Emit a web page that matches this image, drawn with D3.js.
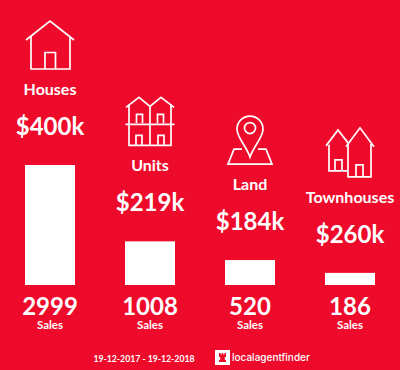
<!DOCTYPE html>
<html>
<head>
<meta charset="utf-8">
<script src="https://cdn.jsdelivr.net/npm/d3@7"></script>
<style>
html, body { margin: 0; padding: 0; background: #ee0a2b; }
svg { display: block; }
text { font-family: Lato, "Open Sans", sans-serif; font-weight: 700; fill: #fff; text-anchor: middle; }
</style>
</head>
<body>
<svg id="chart" width="400" height="370"></svg>
<script>
const categories = ['Houses', 'Units', 'Land', 'Townhouses'];
const prices = ['$400k', '$219k', '$184k', '$260k'];
const sales = [2999, 1008, 520, 186];
const dateRange = '19-12-2017 - 19-12-2018';

const RED = '#ee0a2b';
const width = 400;
const height = 370;
const baseline = 285;

const svg = d3.select('#chart');

const xScale = d3.scaleBand()
    .domain(categories)
    .range([0, width])
    .paddingInner(0.5)
    .paddingOuter(0.25);

// bars never go down to nothing, the smallest still has 5px
const hScale = d3.scaleLinear()
    .domain([0, d3.max(sales)])
    .range([5, 120]);

// icons are drawn around (0,0) = centre of the bar, 96px over its top
const ICONS = {
    Houses: [
        'M-24,-29 L0,-48 L24,-29',
        'M-19,-33 V0 H20 V-33',
        'M-5,0 V-16.5 H5.5 V0'
    ],
    Units: [
        'M-24,-38 L-11,-48 L0,-39 L11,-48 L24,-38',
        'M-21,-41 V0 H21 V-41',
        'M0,-39 V0',
        'M-24.5,-21 H24.5',
        'M-13.5,-22 V-31 H-7.5 V-22',
        'M7.5,-22 V-31 H13.5 V-22',
        'M-14,0 V-10 H-8 V0',
        'M8,0 V-10 H14 V0'
    ],
    Land: [
        'M-8,-15 H-16 L-22,0 H22 L16,-15 H8',
        'M0,-7 C-4,-19 -13,-26 -13,-35 A13,13 0 1 1 13,-35 C13,-26 4,-19 0,-7 Z'
    ],
    Townhouses: [
        'M-24,-31 L-12,-47 L-2,-34',
        'M-21,-32 V-6 H-2',
        'M-15,-6 V-17 H-8 V-6',
        'M-4,-30 L10,-49 L24,-30',
        'M-2,-33 V0 H21 V-33',
        'M6,0 V-12 H13 V0'
    ]
};

svg.append('rect')
    .attr('width', width)
    .attr('height', height)
    .attr('fill', RED);

const groups = svg.selectAll('g.cat')
    .data(categories)
    .enter()
    .append('g')
    .attr('class', 'cat');

groups.each(function (cat, i) {
    const g = d3.select(this);
    const cx = xScale(cat) + xScale.bandwidth() / 2;
    const barH = hScale(sales[i]);
    const top = baseline - barH;

    g.append('rect')
        .attr('x', xScale(cat))
        .attr('y', top)
        .attr('width', xScale.bandwidth())
        .attr('height', barH)
        .attr('fill', '#fff');

    g.append('g')
        .attr('transform', `translate(${cx},${top - 96})`)
        .selectAll('path')
        .data(ICONS[cat])
        .enter()
        .append('path')
        .attr('d', d => d)
        .attr('fill', 'none')
        .attr('stroke', '#fff')
        .attr('stroke-width', 1.7);

    g.append('text')
        .attr('x', cx)
        .attr('y', top - 70)
        .style('font-size', '16px')
        .text(cat);

    g.append('text')
        .attr('x', cx)
        .attr('y', top - 30)
        .style('font-size', '24px')
        .text(prices[i]);

    g.append('text')
        .attr('x', cx)
        .attr('y', baseline + 30)
        .style('font-size', '24px')
        .text(sales[i]);

    g.append('text')
        .attr('x', cx)
        .attr('y', baseline + 44)
        .style('font-size', '11.5px')
        .text('Sales');
});

// circle inside the land pin
const landI = categories.indexOf('Land');
svg.append('circle')
    .attr('cx', xScale('Land') + xScale.bandwidth() / 2)
    .attr('cy', baseline - hScale(sales[landI]) - 96 - 36)
    .attr('r', 5.5)
    .attr('fill', 'none')
    .attr('stroke', '#fff')
    .attr('stroke-width', 1.7);

// footer
svg.append('text')
    .attr('x', 144)
    .attr('y', 361.5)
    .style('font-size', '8.7px')
    .text(dateRange);

svg.append('rect')
    .attr('x', 215)
    .attr('y', 350)
    .attr('width', 15)
    .attr('height', 15)
    .attr('fill', '#fff');

svg.append('path')
    .attr('d', 'M219,353 h1.6 v1.5 h1.1 v-1.5 h1.6 v1.5 h1.1 v-1.5 h1.6 v4 h-1.2 v3 h1.2 v2 h-7 v-2 h1.2 v-3 h-1.2 Z')
    .attr('fill', RED);

svg.append('text')
    .attr('x', 232)
    .attr('y', 361)
    .style('text-anchor', 'start')
    .style('font-family', 'Inter, sans-serif')
    .style('font-weight', 500)
    .style('font-size', '10px')
    .text('localagentfinder');
</script>
</body>
</html>
